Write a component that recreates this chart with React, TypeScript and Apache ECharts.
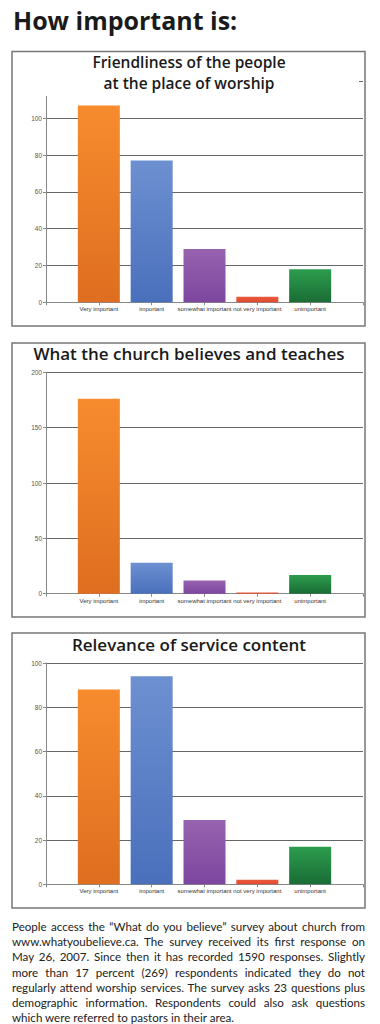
import React, { useEffect, useRef } from "react";
import * as echarts from "echarts";

const categories = ["", "Very important", "important", "somewhat important", "not very important", "unimportant", ""];
const friendliness = [107, 77, 29, 3, 18];
const beliefs = [176, 28, 12, 1, 17];
const relevance = [88, 94, 29, 2, 17];
const barColors = [
  ["#F68C2E", "#DF6E20"],
  ["#6D90D1", "#4A70BC"],
  ["#9762AE", "#7D46A0"],
  ["#EA5A3E", "#E04A30"],
  ["#2C9D4D", "#1A6C35"],
];
const mainTitle = "How important is:";
const panelTitles = [
  ["Friendliness of the people", "at the place of worship"],
  ["What the church believes and teaches"],
  ["Relevance of service content"],
];
const note =
  "People access the \u201cWhat do you believe\u201d survey about church from www.whatyoubelieve.ca. The survey received its first response on May 26, 2007. Since then it has recorded 1590 responses. Slightly more than 17 percent (269) respondents indicated they do not regularly attend worship services. The survey asks 23 questions plus demographic information. Respondents could also ask questions which were referred to pastors in their area.";

const FONT = "'Open Sans', 'Noto Sans', sans-serif";

export default function App() {
  const ref = useRef<HTMLDivElement>(null);
  useEffect(() => {
    if (!ref.current) return;
    const chart = echarts.init(ref.current, undefined, { renderer: "svg" });
    const grids = [
      { top: 81.5, height: 220.8, max: 120, interval: 20, data: friendliness },
      { top: 372.3, height: 221.4, max: 200, interval: 50, data: beliefs },
      { top: 663, height: 221.3, max: 100, interval: 20, data: relevance },
    ];
    const mkData = (vals: number[]) => [
      "-",
      ...vals.map((v, i) => ({
        value: v,
        itemStyle: {
          color: new echarts.graphic.LinearGradient(0, 0, 0, 1, [
            { offset: 0, color: barColors[i][0] },
            { offset: 1, color: barColors[i][1] },
          ]),
        },
      })),
      "-",
    ];
    const boxes = [
      [51.5, 326],
      [343, 617],
      [633, 908],
    ];
    const graphic: any[] = [
      {
        type: "text",
        left: 13,
        top: 7,
        z: 100,
        style: { text: mainTitle, font: `bold 25px ${FONT}`, fill: "#1a1a1a" },
      },
    ];
    boxes.forEach(([y0, y1]) => {
      graphic.push({
        type: "rect",
        z: 100,
        shape: { x: 12, y: y0, width: 353, height: y1 - y0 },
        style: { fill: "none", stroke: "#777", lineWidth: 1.5 },
      });
    });
    // white title area of panel 1 (covers the top gridline, as in the reference)
    graphic.push({
      type: "rect",
      z: 90,
      shape: { x: 13, y: 53, width: 346, height: 43 },
      style: { fill: "#fff" },
    });
    graphic.push({
      type: "text",
      x: 189,
      y: 54,
      z: 100,
      style: { text: panelTitles[0][0], font: `600 15.5px ${FONT}`, align: "center", fill: "#1a1a1a" },
    });
    graphic.push({
      type: "text",
      x: 189,
      y: 75,
      z: 100,
      style: { text: panelTitles[0][1], font: `600 15.5px ${FONT}`, align: "center", fill: "#1a1a1a" },
    });
    graphic.push({
      type: "text",
      x: 189,
      y: 345,
      z: 100,
      style: { text: panelTitles[1][0], font: `600 17px ${FONT}`, align: "center", fill: "#1a1a1a" },
    });
    graphic.push({
      type: "text",
      x: 189,
      y: 636,
      z: 100,
      style: { text: panelTitles[2][0], font: `600 17px ${FONT}`, align: "center", fill: "#1a1a1a" },
    });

    chart.setOption({
      animation: false,
      grid: grids.map((g) => ({ left: 46, width: 317, top: g.top, height: g.height })),
      xAxis: grids.map((g, i) => ({
        type: "category",
        gridIndex: i,
        data: categories,
        boundaryGap: false,
        axisLine: { lineStyle: { color: "#888", width: 1 } },
        axisTick: { show: true, length: 3, lineStyle: { color: "#888" } },
        axisLabel: { fontSize: 6, color: "#333", margin: 4, fontFamily: "'Liberation Sans Narrow', 'Liberation Sans', Arial, sans-serif", interval: 0 },
        splitLine: { show: false },
      })),
      yAxis: grids.map((g, i) => ({
        type: "value",
        gridIndex: i,
        min: 0,
        max: g.max,
        interval: g.interval,
        axisLine: { show: true, lineStyle: { color: "#888", width: 1 } },
        axisTick: { show: true, length: 3, lineStyle: { color: "#888" } },
        axisLabel: { fontSize: 6.5, color: "#555", margin: 4, fontFamily: "Liberation Sans, Arial, sans-serif" },
        splitLine: { show: true, lineStyle: { color: "#666", width: 1 } },
      })),
      series: grids.map((g, i) => ({
        type: "bar",
        xAxisIndex: i,
        yAxisIndex: i,
        barWidth: 42,
        data: mkData(g.data),
      })),
      graphic,
    });
    return () => chart.dispose();
  }, []);
  return (
    <div style={{ position: "absolute", left: 0, top: 0, width: 380, height: 1024, background: "#fff" }}>
      <div ref={ref} style={{ position: "absolute", left: 0, top: 0, width: 380, height: 912 }} />
      <div
        style={{
          position: "absolute",
          left: 12,
          top: 919,
          width: 353,
          fontFamily: "Lato, 'Open Sans', sans-serif",
          fontSize: 11.6,
          lineHeight: "15.2px",
          textAlign: "justify",
          color: "#222",
        }}
      >
        {note}
      </div>
    </div>
  );
}
